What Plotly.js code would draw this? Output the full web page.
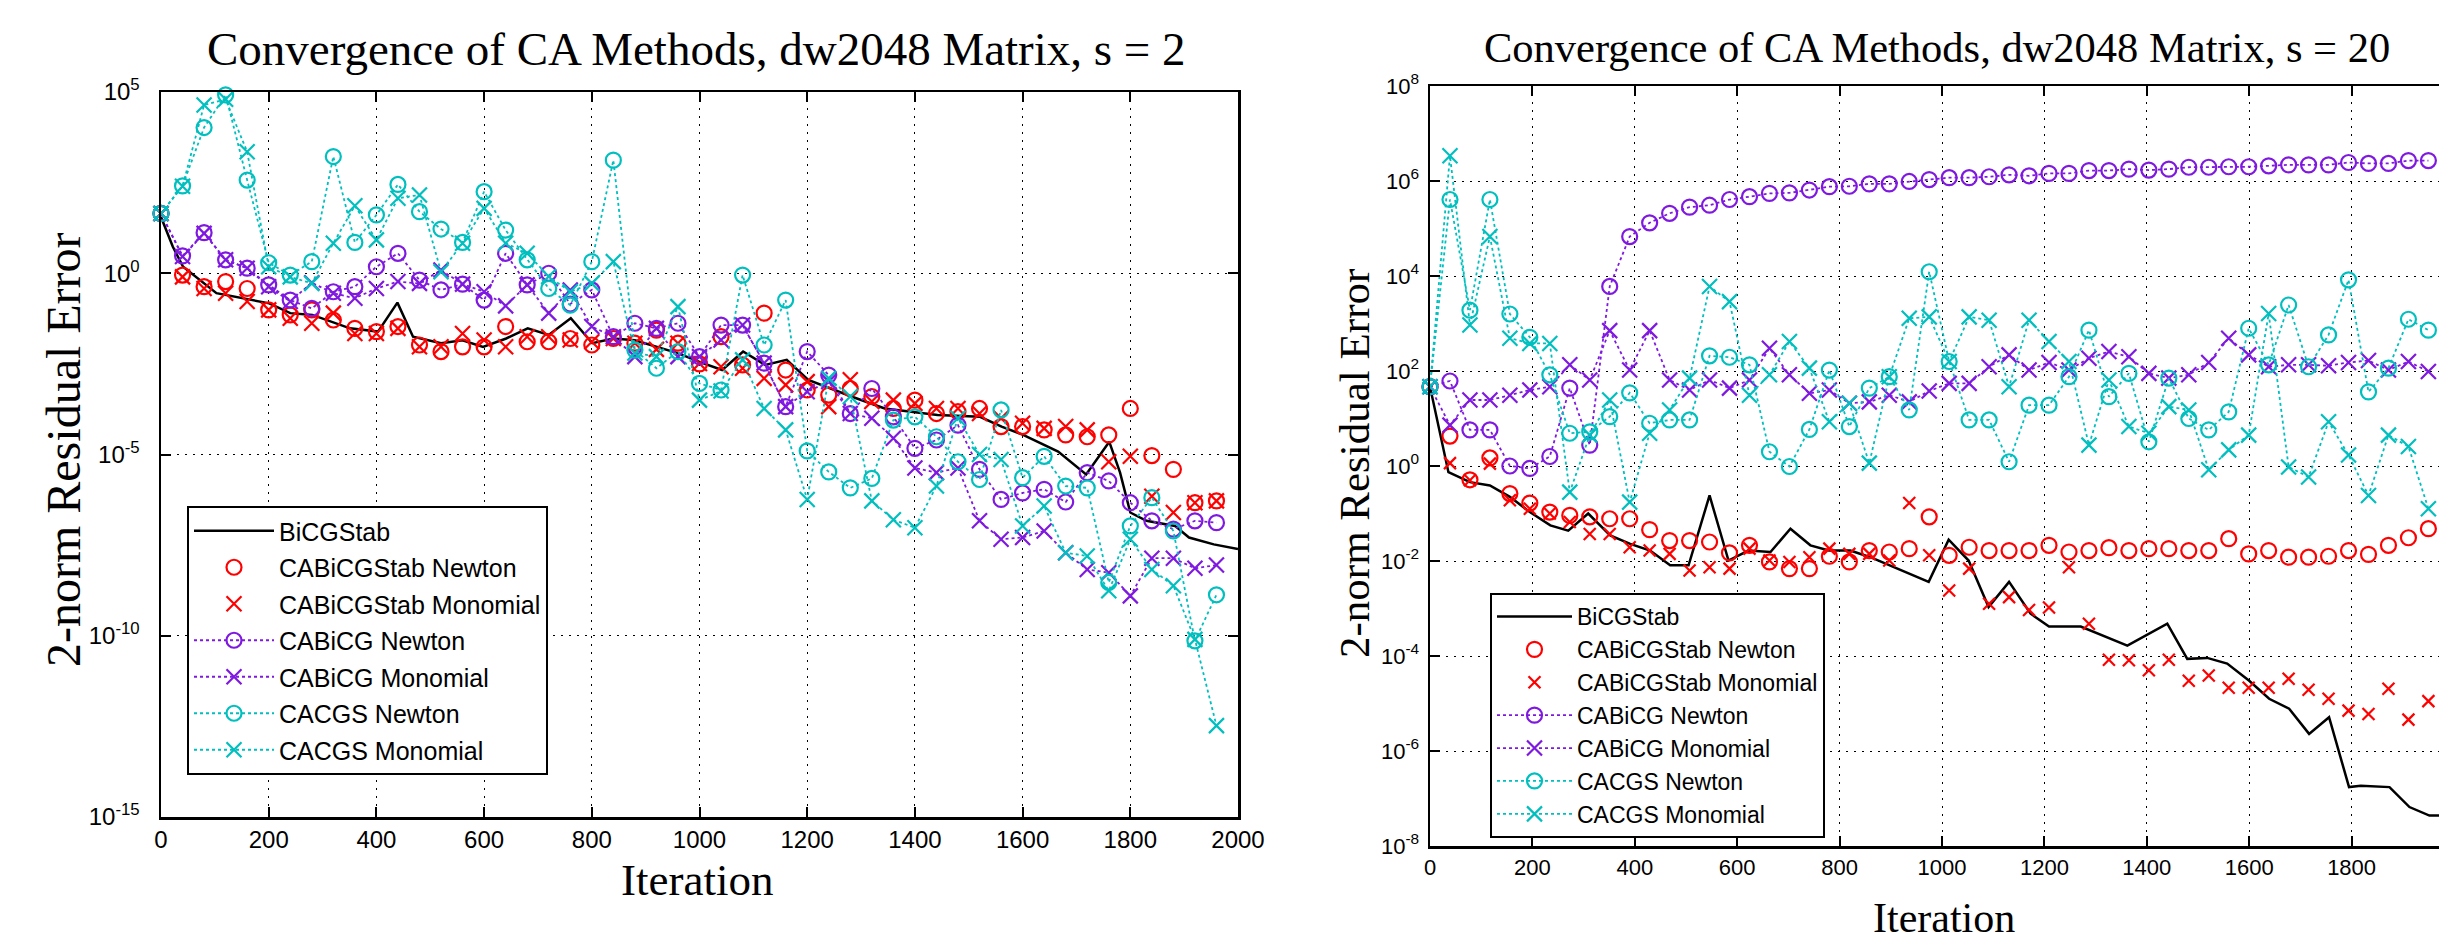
<!DOCTYPE html>
<html>
<head>
<meta charset="utf-8">
<script src="https://cdn.plot.ly/plotly-3.0.1.min.js"></script>
<style>
html,body{margin:0;padding:0;background:#fff;overflow:hidden;width:2439px;height:941px;}
#chart{width:2470px;height:941px;}
</style>
</head>
<body>
<div id="chart"></div>
<script>
// ---------- DATA (values are log10 of the 2-norm residual error) ----------
const seriesNames = ["BiCGStab","CABiCGStab Newton","CABiCGStab Monomial","CABiCG Newton","CABiCG Monomial","CACGS Newton","CACGS Monomial"];

// Left panel, s = 2
const s2Iter = [0,40,80,120,160,200,240,280,320,360,400,440,480,520,560,600,640,680,720,760,800,840,880,920,960,1000,1040,1080,1120,1160,1200,1240,1280,1320,1360,1400,1440,1480,1520,1560,1600,1640,1680,1720,1760,1800,1840,1880,1920,1960];
const s2BicgIter = [0,22,41,103,201,240,281,351,403,439,468,520,560,598,641,681,720,761,801,840,880,920,961,1001,1042,1081,1122,1162,1202,1282,1344,1442,1521,1561,1601,1666,1718,1761,1781,1800,1830,1883,1909,1955,2000];
const s2BicgLog = [1.55,0.73,0.18,-0.55,-0.83,-1.1,-1.15,-1.52,-1.61,-0.81,-1.75,-1.93,-1.85,-2.03,-1.8,-1.52,-1.7,-1.24,-1.93,-1.8,-1.85,-2.03,-2.21,-2.45,-2.67,-2.16,-2.53,-2.39,-2.94,-3.4,-3.73,-3.91,-3.96,-4.23,-4.46,-4.92,-5.55,-4.65,-5.5,-6.6,-6.83,-6.97,-7.29,-7.48,-7.61];
const s2StabNewtonLog = [1.65,-0.05,-0.37,-0.23,-0.42,-1.01,-1.15,-1.01,-1.29,-1.52,-1.61,-1.47,-1.98,-2.16,-2.03,-2.03,-1.47,-1.89,-1.89,-1.8,-1.98,-1.8,-1.93,-1.57,-1.93,-2.5,-1.75,-2.53,-1.1,-2.67,-3.22,-3.36,-3.18,-3.4,-3.73,-3.5,-3.87,-3.82,-3.73,-4.23,-4.23,-4.32,-4.46,-4.51,-4.46,-3.73,-5.03,-5.41,-6.33,-6.28];
const s2StabMonoLog = [1.65,-0.1,-0.42,-0.55,-0.78,-1.01,-1.24,-1.38,-1.1,-1.66,-1.66,-1.52,-2.03,-2.03,-1.66,-1.84,-2.03,-1.75,-1.75,-1.84,-1.89,-1.8,-1.93,-2.1,-1.93,-2.49,-2.58,-2.62,-2.9,-3.08,-2.99,-3.68,-2.94,-3.54,-3.5,-3.59,-3.73,-3.73,-3.87,-4.0,-4.14,-4.28,-4.23,-4.32,-5.2,-5.05,-6.15,-6.6,-6.33,-6.28];
const s2BicgNewtonLog = [1.65,0.48,1.12,0.37,0.14,-0.32,-0.74,-0.97,-0.51,-0.37,0.18,0.55,-0.19,-0.46,-0.3,-0.74,0.55,-0.32,0.0,-0.85,-0.46,-1.75,-1.38,-1.52,-1.38,-2.3,-1.43,-1.43,-2.48,-3.68,-2.16,-2.81,-3.87,-3.18,-3.96,-4.83,-4.6,-4.19,-5.41,-6.24,-6.06,-5.96,-6.31,-5.5,-5.73,-6.33,-6.83,-7.06,-6.83,-6.88];
const s2BicgMonoLog = [1.65,0.46,1.1,0.37,0.14,-0.37,-0.78,-0.26,-0.55,-0.69,-0.42,-0.23,-0.28,0.09,-0.3,-0.51,-0.9,-0.32,-1.1,-0.46,-1.47,-1.75,-2.3,-1.52,-2.3,-2.3,-1.84,-1.43,-2.48,-3.68,-3.27,-2.99,-3.87,-4.0,-4.55,-5.37,-5.5,-5.37,-6.83,-7.34,-7.29,-7.11,-7.71,-8.17,-8.26,-8.9,-7.86,-7.86,-8.14,-8.05];
const s2CgsNewtonLog = [1.65,2.41,4.02,4.92,2.57,0.29,-0.05,0.32,3.22,0.85,1.61,2.45,1.70,1.22,0.85,2.25,1.19,0.37,-0.42,-0.88,0.32,3.12,-2.12,-2.62,-2.16,-3.04,-3.22,-0.05,-1.98,-0.74,-4.9,-5.48,-5.92,-5.66,-4.05,-3.96,-4.51,-5.2,-5.69,-3.77,-5.64,-5.05,-5.87,-5.92,-8.53,-6.97,-6.19,-7.11,-10.14,-8.87];
const s2CgsMonoLog = [1.65,2.4,4.64,4.8,3.35,0.18,-0.1,-0.28,0.83,1.86,0.92,2.07,2.16,0.04,0.83,1.79,0.83,0.55,-0.09,-0.51,-0.28,0.32,-2.2,-2.3,-0.92,-3.5,-3.25,-2.39,-3.73,-4.32,-6.24,-2.9,-3.4,-6.28,-6.8,-7.02,-5.87,-4.0,-5.0,-5.14,-6.97,-6.42,-7.71,-7.8,-8.76,-7.34,-8.17,-8.62,-10.1,-12.48];

// Right panel, s = 20
const s20Iter = [0,39,78,117,156,195,234,273,312,351,390,429,468,507,546,585,624,663,702,741,780,819,858,897,936,975,1014,1053,1092,1131,1170,1209,1248,1287,1326,1365,1404,1443,1482,1521,1560,1599,1638,1677,1716,1755,1794,1833,1872,1911,1950];
const s20BicgIter = [0,36,78,117,156,195,235,270,309,352,391,430,469,505,546,583,622,665,704,743,779,821,860,905,974,1013,1052,1091,1131,1173,1209,1271,1362,1440,1479,1518,1557,1600,1639,1678,1717,1756,1795,1818,1874,1913,1952,1985];
const s20BicgLog = [1.67,-0.13,-0.34,-0.41,-0.65,-0.97,-1.25,-1.36,-1.0,-1.46,-1.64,-1.78,-2.09,-2.09,-0.62,-1.99,-1.78,-1.81,-1.32,-1.67,-1.78,-1.78,-1.92,-2.13,-2.44,-1.55,-1.99,-2.97,-2.44,-3.11,-3.38,-3.38,-3.78,-3.32,-4.06,-4.04,-4.16,-4.52,-4.9,-5.11,-5.64,-5.29,-6.76,-6.73,-6.76,-7.18,-7.36,-7.36];
const s20StabNewtonLog = [1.67,0.63,-0.29,0.17,-0.58,-0.78,-0.97,-1.04,-1.07,-1.11,-1.11,-1.34,-1.57,-1.57,-1.6,-1.83,-1.67,-2.02,-2.16,-2.16,-1.9,-2.02,-1.78,-1.81,-1.74,-1.07,-1.88,-1.71,-1.78,-1.78,-1.78,-1.67,-1.81,-1.78,-1.72,-1.78,-1.74,-1.74,-1.78,-1.78,-1.53,-1.85,-1.78,-1.92,-1.92,-1.9,-1.78,-1.86,-1.67,-1.51,-1.32];
const s20StabMonoLog = [1.67,0.06,-0.3,0.05,-0.72,-0.9,-1.0,-1.18,-1.43,-1.43,-1.71,-1.78,-1.85,-2.2,-2.13,-2.16,-1.74,-1.99,-2.02,-1.92,-1.74,-1.85,-1.85,-1.99,-0.78,-1.88,-2.62,-2.16,-2.9,-2.76,-3.03,-2.98,-2.13,-3.32,-4.08,-4.09,-4.3,-4.08,-4.52,-4.41,-4.67,-4.67,-4.67,-4.48,-4.71,-4.9,-5.15,-5.22,-4.69,-5.34,-4.95];
const s20BicgNewtonLog = [1.67,1.79,0.76,0.76,0.0,-0.05,0.2,1.64,0.44,3.78,4.83,5.12,5.32,5.45,5.49,5.61,5.67,5.74,5.75,5.81,5.88,5.89,5.94,5.94,5.99,6.03,6.07,6.07,6.09,6.13,6.11,6.16,6.16,6.22,6.22,6.25,6.23,6.25,6.29,6.29,6.3,6.3,6.32,6.34,6.34,6.34,6.39,6.37,6.37,6.43,6.43];
const s20BicgMonoLog = [1.67,0.86,1.39,1.39,1.49,1.6,1.67,2.13,1.81,2.85,2.02,2.85,1.81,1.6,1.81,1.64,1.81,2.48,1.92,1.53,1.6,1.32,1.35,1.49,1.35,1.58,1.74,1.74,2.09,2.34,2.02,2.18,2.02,2.27,2.41,2.3,1.95,1.85,1.92,2.18,2.69,2.34,2.09,2.13,2.13,2.11,2.18,2.22,2.02,2.2,1.99];
const s20CgsNewtonLog = [1.67,5.61,3.28,5.61,3.2,2.71,1.92,0.69,0.72,1.04,1.54,0.9,0.97,0.97,2.32,2.29,2.13,0.3,-0.01,0.77,2.02,0.83,1.64,1.88,1.18,4.09,2.2,0.97,0.97,0.09,1.28,1.28,1.88,2.86,1.46,1.95,0.51,1.85,1.0,0.76,1.14,2.9,2.13,3.39,2.09,2.76,3.92,1.56,2.06,3.09,2.86];
const s20CgsMonoLog = [1.67,6.53,2.97,4.83,2.69,2.58,2.58,-0.55,0.65,1.39,-0.76,0.69,1.18,1.85,3.78,3.46,1.49,1.92,2.62,2.06,0.93,1.32,0.06,1.88,3.11,3.14,2.2,3.14,3.07,1.67,3.07,2.62,2.2,0.44,1.81,0.83,0.69,1.25,1.18,-0.08,0.34,0.65,3.21,-0.02,-0.23,0.93,0.23,-0.62,0.65,0.41,-0.9];

// Tick labels
const xTickVals = [0,200,400,600,800,1000,1200,1400,1600,1800,2000];
const xTickText = ["0","200","400","600","800","1000","1200","1400","1600","1800","2000"];
const s2YTickVals = [1e-15,1e-10,1e-5,1,1e5];
const s2YTickText = ["10<sup>-15</sup>","10<sup>-10</sup>","10<sup>-5</sup>","10<sup>0</sup>","10<sup>5</sup>"];
const s20YTickVals = [1e-8,1e-6,1e-4,1e-2,1,1e2,1e4,1e6,1e8];
const s20YTickText = ["10<sup>-8</sup>","10<sup>-6</sup>","10<sup>-4</sup>","10<sup>-2</sup>","10<sup>0</sup>","10<sup>2</sup>","10<sup>4</sup>","10<sup>6</sup>","10<sup>8</sup>"];

// ---------- STYLE ----------
const RED = '#FF0000', PURPLE = '#7F19E0', CYAN = '#00BFBF', BLACK = '#000000';
const W = 2470, H = 941;
const pow10 = a => a.map(v => Math.pow(10, v));

function makeTraces(iter, bIter, bLog, sN, sM, bN, bM, cN, cM, xa, ya, leg, msz, xsz) {
  const common = {xaxis: xa, yaxis: ya, legend: leg, cliponaxis: false, hoverinfo: 'skip'};
  return [
    Object.assign({type:'scatter', mode:'lines', name:seriesNames[0], legendgroup:leg+'a', x:bIter, y:pow10(bLog), line:{color:BLACK, width:2.5}}, common),
    Object.assign({type:'scatter', mode:'markers', name:seriesNames[1], legendgroup:leg+'b', x:iter, y:pow10(sN), marker:{symbol:'circle-open', size:msz, color:RED, line:{color:RED, width:2.2}}}, common),
    Object.assign({type:'scatter', mode:'markers', name:seriesNames[2], legendgroup:leg+'c', x:iter, y:pow10(sM), marker:{symbol:'x-thin-open', size:xsz, color:RED, line:{color:RED, width:2.2}}}, common),
    Object.assign({type:'scatter', mode:'lines+markers', name:seriesNames[3], legendgroup:leg+'d', x:iter, y:pow10(bN), line:{color:PURPLE, width:1.8, dash:'dot'}, marker:{symbol:'circle-open', size:msz, color:PURPLE, line:{color:PURPLE, width:2.2}}}, common),
    Object.assign({type:'scatter', mode:'lines+markers', name:seriesNames[4], legendgroup:leg+'e', x:iter, y:pow10(bM), line:{color:PURPLE, width:1.8, dash:'dot'}, marker:{symbol:'x-thin-open', size:msz, color:PURPLE, line:{color:PURPLE, width:2.2}}}, common),
    Object.assign({type:'scatter', mode:'lines+markers', name:seriesNames[5], legendgroup:leg+'f', x:iter, y:pow10(cN), line:{color:CYAN, width:1.8, dash:'dot'}, marker:{symbol:'circle-open', size:msz, color:CYAN, line:{color:CYAN, width:2.2}}}, common),
    Object.assign({type:'scatter', mode:'lines+markers', name:seriesNames[6], legendgroup:leg+'g', x:iter, y:pow10(cM), line:{color:CYAN, width:1.8, dash:'dot'}, marker:{symbol:'x-thin-open', size:msz, color:CYAN, line:{color:CYAN, width:2.2}}}, common)
  ];
}

const data = [].concat(
  makeTraces(s2Iter, s2BicgIter, s2BicgLog, s2StabNewtonLog, s2StabMonoLog, s2BicgNewtonLog, s2BicgMonoLog, s2CgsNewtonLog, s2CgsMonoLog, 'x', 'y', 'legend', 15, 15),
  makeTraces(s20Iter, s20BicgIter, s20BicgLog, s20StabNewtonLog, s20StabMonoLog, s20BicgNewtonLog, s20BicgMonoLog, s20CgsNewtonLog, s20CgsMonoLog, 'x2', 'y2', 'legend2', 15, 12)
);

function xAxis(dom, anchor, fs) {
  return {domain: dom, anchor: anchor, range: [0, 2000], tickmode: 'array', tickvals: xTickVals, ticktext: xTickText,
    ticks: 'inside', ticklen: 10, tickwidth: 2, tickcolor: BLACK, mirror: 'ticks', showline: true, linewidth: 2.5, linecolor: BLACK,
    showgrid: true, gridcolor: BLACK, gridwidth: 1, griddash: '2px,6px', zeroline: false,
    tickfont: {family: 'Liberation Sans, Arial, sans-serif', size: fs, color: BLACK}};
}
function yAxis(dom, anchor, rng, tv, tt, fs, standoff) {
  return {domain: dom, anchor: anchor, type: 'log', range: rng, tickmode: 'array', tickvals: tv, ticktext: tt,
    ticks: 'inside', ticklen: 10, tickwidth: 2, tickcolor: BLACK, mirror: 'ticks', showline: true, linewidth: 2.5, linecolor: BLACK,
    showgrid: true, gridcolor: BLACK, gridwidth: 1, griddash: '2px,6px', zeroline: false, ticklabelstandoff: standoff,
    tickfont: {family: 'Liberation Sans, Arial, sans-serif', size: fs, color: BLACK}};
}

const serif = 'Liberation Serif, Times New Roman, serif';
const layout = {
  width: W, height: H, margin: {l: 0, r: 0, t: 0, b: 0}, paper_bgcolor: '#fff', plot_bgcolor: '#fff',
  showlegend: true,
  xaxis: xAxis([161/W, 1238/W], 'y', 24),
  yaxis: yAxis([(H-817)/H, (H-92)/H], 'x', [-15, 5], s2YTickVals, s2YTickText, 24, 14),
  xaxis2: xAxis([1430/W, 2454/W], 'y2', 22),
  yaxis2: yAxis([(H-846)/H, (H-86)/H], 'x2', [-8, 8], s20YTickVals, s20YTickText, 22, 4),
  legend: {x: 187/W, y: (H-506)/H, xanchor: 'left', yanchor: 'top', bgcolor: '#fff', bordercolor: BLACK, borderwidth: 2,
    font: {family: 'Liberation Sans, Arial, sans-serif', size: 25, color: BLACK}, traceorder: 'grouped', tracegroupgap: 1, itemwidth: 80},
  legend2: {x: 1490/W, y: (H-593)/H, xanchor: 'left', yanchor: 'top', bgcolor: '#fff', bordercolor: BLACK, borderwidth: 2,
    font: {family: 'Liberation Sans, Arial, sans-serif', size: 23, color: BLACK}, traceorder: 'grouped', tracegroupgap: 0, itemwidth: 75},
  annotations: [
    {text: 'Convergence of CA Methods, dw2048 Matrix, s = 2', xref: 'paper', yref: 'paper', x: 697/W, y: 1-49/H, xanchor: 'center', yanchor: 'middle', showarrow: false, font: {family: serif, size: 47, color: BLACK}},
    {text: 'Convergence of CA Methods, dw2048 Matrix, s = 20', xref: 'paper', yref: 'paper', x: 1937/W, y: 1-48/H, xanchor: 'center', yanchor: 'middle', showarrow: false, font: {family: serif, size: 42.5, color: BLACK}},
    {text: 'Iteration', xref: 'paper', yref: 'paper', x: 697/W, y: 1-880/H, xanchor: 'center', yanchor: 'middle', showarrow: false, font: {family: serif, size: 45, color: BLACK}},
    {text: 'Iteration', xref: 'paper', yref: 'paper', x: 1944/W, y: 1-918/H, xanchor: 'center', yanchor: 'middle', showarrow: false, font: {family: serif, size: 42, color: BLACK}},
    {text: '2-norm Residual Error', xref: 'paper', yref: 'paper', x: 63/W, y: 1-450/H, xanchor: 'center', yanchor: 'middle', textangle: -90, showarrow: false, font: {family: serif, size: 48, color: BLACK}},
    {text: '2-norm Residual Error', xref: 'paper', yref: 'paper', x: 1354/W, y: 1-464/H, xanchor: 'center', yanchor: 'middle', textangle: -90, showarrow: false, font: {family: serif, size: 43, color: BLACK}}
  ]
};

Plotly.newPlot('chart', data, layout, {displayModeBar: false, staticPlot: true});
</script>
</body>
</html>
